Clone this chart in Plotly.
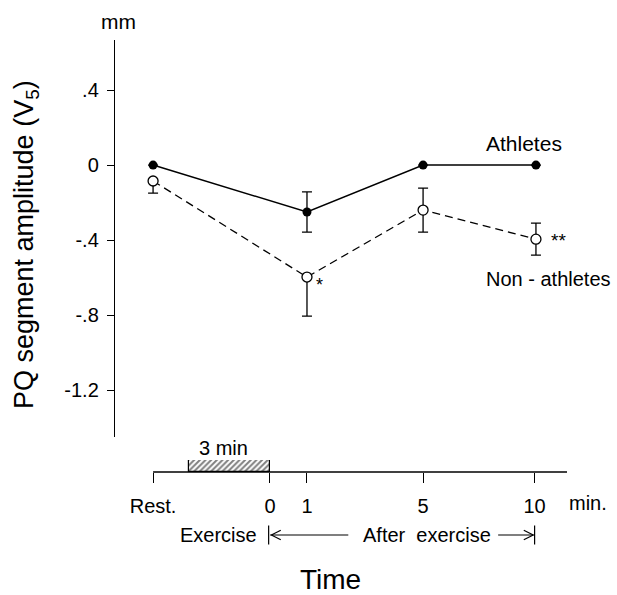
import plotly.graph_objects as go

# ---- data ----
time_labels = ["Rest", "1", "5", "10"]
athletes = [0.0, -0.25, 0.0, 0.0]
athletes_err_plus = [0.0, 0.107, 0.0, 0.0]
athletes_err_minus = [0.0, 0.107, 0.0, 0.0]
non_athletes = [-0.085, -0.597, -0.24, -0.395]
non_err_plus = [0.0, 0.0, 0.117, 0.085]
non_err_minus = [0.065, 0.208, 0.117, 0.085]

tick_labels = ["Rest.", "0", "1", "5", "10"]
y_ticks = [0.4, 0.0, -0.4, -0.8, -1.2]
y_tick_labels = [".4", "0", "-.4", "-.8", "-1.2"]

# ---- layout positions (drawn time scale, minutes-like units) ----
xpos = {"Rest": -4.33, "0": 0.0, "1": 1.37, "5": 5.67, "10": 9.85}
x_of = [xpos[t] for t in time_labels]
tick_pos = [xpos["Rest"], xpos["0"], xpos["1"], xpos["5"], 9.8]

FONT = "Liberation Sans"
W, H = 617, 595
L, R, T, B = 115, 50, 40, 123
PW, PH = W - L - R, H - T - B


def px(xp):
    return (xp - L) / PW


def py(yp):
    return (H - B - yp) / PH


fig = go.Figure()

fig.add_trace(go.Scatter(
    x=x_of, y=non_athletes, mode="lines+markers",
    line=dict(color="black", width=1.3, dash="8px,5px"),
    marker=dict(symbol="circle", size=10, color="white", line=dict(color="black", width=1.3)),
    error_y=dict(type="data", symmetric=False, array=non_err_plus, arrayminus=non_err_minus,
                 color="black", thickness=1.3, width=5),
    xaxis="x", yaxis="y", showlegend=False,
))
fig.add_trace(go.Scatter(
    x=x_of, y=athletes, mode="lines+markers",
    line=dict(color="black", width=1.5),
    marker=dict(symbol="circle", size=9, color="black"),
    error_y=dict(type="data", symmetric=False, array=athletes_err_plus, arrayminus=athletes_err_minus,
                 color="black", thickness=1.3, width=5),
    xaxis="x", yaxis="y", showlegend=False,
))
# Hatched exercise bar (3 min)
fig.add_trace(go.Bar(
    x=[-1.5], y=[1], width=[3.0], xaxis="x", yaxis="y2",
    marker=dict(color="white", line=dict(color="black", width=1.2),
                pattern=dict(shape="/", fgcolor="black", bgcolor="white", size=4, solidity=0.5)),
    showlegend=False,
))

fig.update_layout(
    width=W, height=H,
    margin=dict(l=L, r=R, t=T, b=B),
    paper_bgcolor="white", plot_bgcolor="rgba(0,0,0,0)",
    font=dict(family=FONT, color="black", size=20),
    xaxis=dict(range=[-5.74, 11.0], domain=[0, 1], anchor="y2",
               tickvals=tick_pos, ticktext=tick_labels, ticks="outside", ticklen=10,
               tickwidth=1.3, tickcolor="black", showline=False, showgrid=False,
               zeroline=False, tickfont=dict(size=20, family=FONT), ticklabelstandoff=6),
    yaxis=dict(range=[-1.45, 0.667], domain=[py(437), 1], anchor="x",
               tickvals=y_ticks, ticktext=y_tick_labels, ticks="outside", ticklen=7,
               tickwidth=1.3, tickcolor="black", showline=True, linecolor="black",
               linewidth=1.4, showgrid=False, zeroline=False,
               tickfont=dict(size=20, family=FONT), ticklabelstandoff=4),
    yaxis2=dict(range=[0, 1], domain=[0, py(460)], anchor="x", visible=False),
    bargap=0,
)

shapes = []
# bottom time axis line from Rest to end
shapes.append(dict(type="line", xref="x", yref="paper", x0=xpos["Rest"], x1=11.0, y0=0, y1=0,
                   line=dict(color="black", width=1.3)))
# arrow row: lines, end bars and arrowheads
ya = py(535)
lw = dict(color="black", width=1.2)
xl0, xl1 = 0.0, 2.9      # left arrow (points to exercise end)
xr0, xr1 = 8.45, 9.8     # right arrow (points to 10 min)
shapes.append(dict(type="line", xref="x", yref="paper", x0=xl0, x1=xl1, y0=ya, y1=ya, line=lw))
shapes.append(dict(type="line", xref="x", yref="paper", x0=xr0, x1=xr1, y0=ya, y1=ya, line=lw))
for xb in (xl0 - 0.05, xr1):
    shapes.append(dict(type="line", xref="x", yref="paper", x0=xb, x1=xb,
                       y0=ya - 0.022, y1=ya + 0.022, line=lw))
for dy in (0.011, -0.011):
    shapes.append(dict(type="line", xref="x", yref="paper", x0=xl0 + 0.05, x1=xl0 + 0.4,
                       y0=ya, y1=ya + dy, line=lw))
    shapes.append(dict(type="line", xref="x", yref="paper", x0=xr1 - 0.05, x1=xr1 - 0.4,
                       y0=ya, y1=ya + dy, line=lw))
fig.update_layout(shapes=shapes)


def note(text, x, y, size, xref="paper", yref="paper", **kw):
    return dict(text=text, xref=xref, yref=yref, x=x, y=y, showarrow=False,
                xanchor="center", yanchor="middle", font=dict(size=size), **kw)


ann = [
    note("mm", px(118), py(22), 21),
    note("PQ segment amplitude (V<sub>5</sub>)", px(26), py(245), 27, textangle=-90),
    note("Athletes", 9.4, 0.117, 21, xref="x", yref="y"),
    note("Non - athletes", 10.3, -0.61, 20, xref="x", yref="y"),
    note("*", 1.85, -0.64, 18, xref="x", yref="y"),
    note("**", 10.7, -0.40, 19, xref="x", yref="y"),
    note("3 min", -1.74, py(448), 20, xref="x"),
    note("min.", px(588), py(503), 20),
    note("Exercise", -1.9, ya, 20, xref="x"),
    note("After  exercise", 5.8, ya, 20, xref="x"),
    note("Time", px(330), py(579), 28),
]
fig.update_layout(annotations=ann)

fig.write_html("out.html")
